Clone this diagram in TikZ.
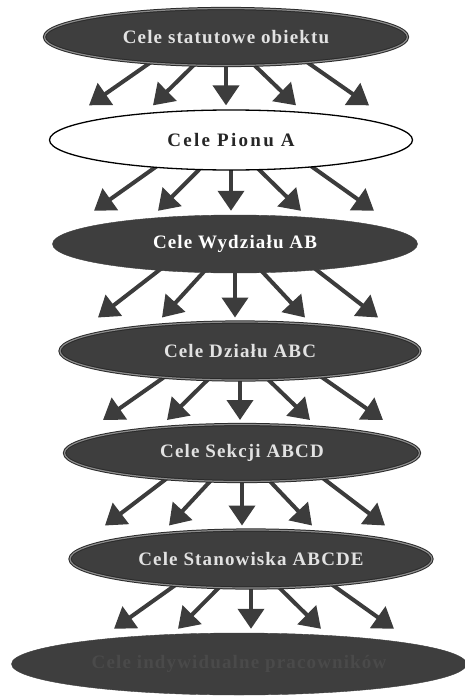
\documentclass[tikz,border=0pt]{standalone}
\usepackage{fontspec}
\setmainfont{Liberation Serif}
\newfontfamily\goalfont[LetterSpace=6]{Liberation Serif}
\newfontfamily\goalfontwide[LetterSpace=12]{Liberation Serif}
\usetikzlibrary{shapes.geometric,arrows.meta,calc}
\pgfdeclarelayer{background}
\pgfsetlayers{background,main}
\definecolor{inkgray}{HTML}{3C3C3C}
\definecolor{fillgray}{HTML}{3E3E3E}
\definecolor{edgegray}{HTML}{2A2A2A}
\definecolor{rimgray}{HTML}{8C8C8C}
\definecolor{lighttext}{HTML}{E2E2E2}
\definecolor{faintext}{HTML}{4A4A4A}
\begin{document}
\begin{tikzpicture}[x=1pt,y=-1pt,
  goal/.style={ellipse, inner sep=0pt,
    font=\goalfont\bfseries\fontsize{19}{22}\selectfont},
  grainy/.style={goal, fill=fillgray, draw=edgegray, line width=1pt,
    double=rimgray, double distance=1.2pt, text=lighttext},
  plain/.style={goal, fill=white, draw=black, line width=1.3pt, text=black!85},
  solidgoal/.style={goal, fill=fillgray, draw=fillgray, text=white},
  flow/.style={draw=inkgray, line width=4pt,
    -{Triangle[length=20pt,width=26pt]}},
]
\useasboundingbox (0,0) rectangle (465,696);

% goal levels, from the whole object down to the individual employee
\node[grainy, minimum width=363pt, minimum height=57pt] (e1) at (226,37)
  {Cele statutowe obiektu};
\node[plain, minimum width=363pt, minimum height=60pt,
  font=\goalfontwide\bfseries\fontsize{19}{22}\selectfont] (e2) at (231,140)
  {Cele Pionu A};
\node[solidgoal, minimum width=365pt, minimum height=58pt] (e3) at (235,244)
  {Cele Wydziału AB};
\node[grainy, minimum width=360pt, minimum height=58pt] (e4) at (240,351)
  {Cele Działu ABC};
\node[grainy, minimum width=355pt, minimum height=57pt] (e5) at (242,453)
  {Cele Sekcji ABCD};
\node[grainy, minimum width=362pt, minimum height=58pt] (e6) at (251,559)
  {Cele Stanowiska ABCDE};
\node[solidgoal, minimum width=455pt, minimum height=62pt, text=faintext] (e7) at (239,664)
  {Cele indywidualne pracowników};

% five arrows fanning out from each level to the next
\begin{pgfonlayer}{background}
\foreach \u/\l in {e1/e2,e2/e3,e3/e4,e4/e5,e5/e6,e6/e7}{
  \foreach \s/\t in {-72/-137,-27/-73,0/0,23/70,78/143}{
    \draw[flow] ($(\u.south)+(\s,-6)$) -- ($(\l.north -| \u.south)+(\t,-4)$);
  }
}
\end{pgfonlayer}
\end{tikzpicture}
\end{document}
